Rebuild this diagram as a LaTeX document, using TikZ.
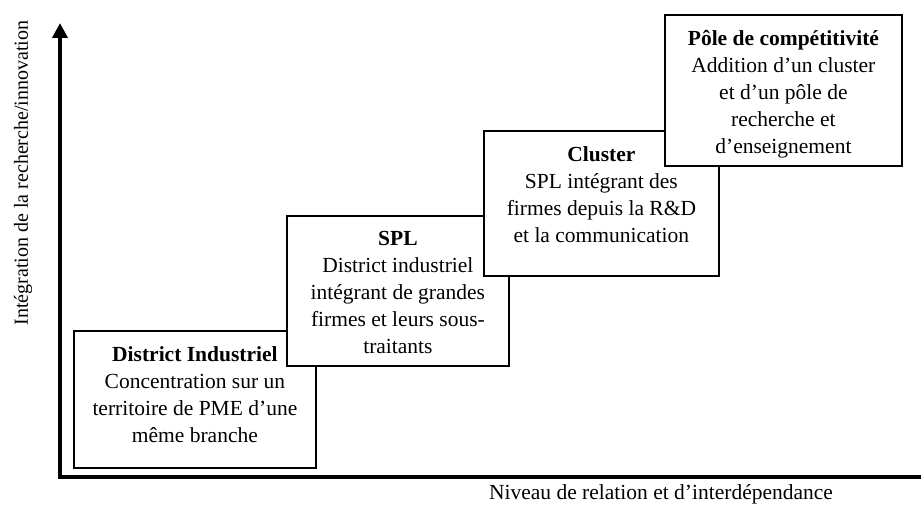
\documentclass[tikz,border=0pt]{standalone}
\usepackage{fontspec}
\setmainfont{Liberation Serif}
\usetikzlibrary{arrows.meta}

\tikzset{
  axisline/.style={line width=4.5pt, line join=miter},
  stagebox/.style={draw=black, fill=white, line width=1.8pt, rectangle,
                   inner sep=0pt, anchor=north west},
  stagetext/.style={align=center, inner sep=0pt, anchor=north,
                    font=\fontsize{21.5}{27}\selectfont},
  axislabel/.style={inner sep=0pt, font=\fontsize{21.5}{26}\selectfont},
}

\begin{document}
\begin{tikzpicture}[x=1pt, y=-1pt]
  \useasboundingbox (0,0) rectangle (921,510);

  % axes
  \coordinate (ytop) at (60,23);
  \coordinate (origin) at (60,477);
  \coordinate (xend) at (921,477);
  \draw[axisline, {Triangle[length=15pt,width=15pt]}-] (ytop) -- (origin) -- (xend);

  \node[axislabel, rotate=90, font=\fontsize{20}{24}\selectfont] (ylab) at (23,173)
    {Intégration de la recherche/innovation};
  \node[axislabel] (xlab) at (661,494) {Niveau de relation et d’interdépendance};

  % stage 1
  \node[stagebox, minimum width=242pt, minimum height=137pt] (b1) at (73,330) {};
  \node[stagetext] (t1) at ([yshift=-16pt]b1.north)
    {\textbf{District Industriel}\\Concentration sur un\\territoire de PME d’une\\même branche};

  % stage 2
  \node[stagebox, minimum width=222pt, minimum height=150pt] (b2) at (286,215) {};
  \node[stagetext] (t2) at ([yshift=-16pt]b2.north)
    {\textbf{SPL}\\District industriel\\intégrant de grandes\\firmes et leurs sous-\\traitants};

  % stage 3
  \node[stagebox, minimum width=235pt, minimum height=145pt] (b3) at (483,130) {};
  \node[stagetext] (t3) at ([yshift=-16pt]b3.north)
    {\textbf{Cluster}\\SPL intégrant des\\firmes depuis la R\&D\\et la communication};

  % stage 4
  \node[stagebox, minimum width=237pt, minimum height=151pt] (b4) at (664,14) {};
  \node[stagetext] (t4) at ([yshift=-16pt]b4.north)
    {\textbf{Pôle de compétitivité}\\Addition d’un cluster\\et d’un pôle de\\recherche et\\d’enseignement};
\end{tikzpicture}
\end{document}
